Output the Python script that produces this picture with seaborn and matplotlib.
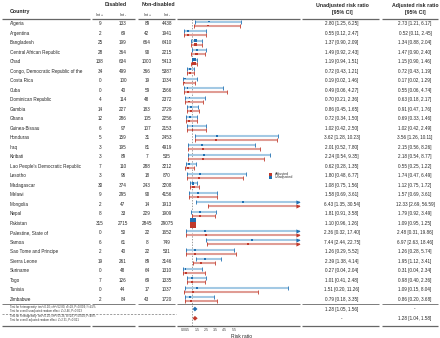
import numpy as np
import pandas as pd
import matplotlib
matplotlib.use("Agg")
import matplotlib.pyplot as plt
import seaborn as sns

# ------------------ DATA ------------------
countries = ["Algeria", "Argentina", "Bangladesh", "Central African Republic", "Chad",
             "Congo, Democratic Republic of the", "Costa Rica", "Cuba", "Dominican Republic",
             "Gambia", "Ghana", "Guinea-Bissau", "Honduras", "Iraq", "Kiribati",
             "Lao People's Democratic Republic", "Lesotho", "Madagascar", "Malawi", "Mongolia",
             "Nepal", "Pakistan", "Palestine, State of", "Samoa", "Sao Tome and Principe",
             "Sierra Leone", "Suriname", "Togo", "Tunisia", "Zimbabwe"]
dis_pos = [9, 2, 25, 28, 138, 34, 0, 0, 4, 14, 12, 6, 5, 3, 3, 7, 3, 30, 9, 2, 8, 315, 0, 6, 2, 19, 0, 7, 0, 2]
dis_neg = [133, 69, 199, 364, 634, 499, 100, 40, 114, 227, 286, 97, 159, 195, 89, 110, 96, 374, 295, 47,
           33, 2715, 50, 61, 40, 261, 48, 126, 44, 84]
non_pos = [89, 42, 664, 90, 1000, 366, 19, 59, 48, 183, 105, 107, 31, 81, 7, 288, 18, 243, 90, 14,
           229, 2845, 22, 8, 22, 89, 64, 69, 17, 43]
non_neg = [4438, 1941, 6410, 2215, 5413, 5387, 1034, 1566, 2372, 2729, 2256, 2153, 2453, 4919, 535,
           3212, 870, 3208, 4156, 1913, 1909, 29075, 1652, 749, 531, 3146, 1310, 1335, 1037, 1720]

unadj_rr = [2.80, 0.55, 1.37, 1.49, 1.19, 0.72, 0.19, 0.49, 0.70, 0.86, 0.72, 1.02, 3.62, 2.01, 2.24,
            0.62, 1.80, 1.08, 1.58, 6.43, 1.81, 1.10, 2.36, 7.44, 1.26, 2.39, 0.27, 1.01, 1.51, 0.79]
unadj_lo = [1.25, 0.12, 0.90, 0.92, 0.94, 0.43, 0.02, 0.06, 0.21, 0.45, 0.34, 0.42, 1.28, 0.52, 0.54,
            0.28, 0.48, 0.75, 0.69, 1.35, 0.91, 0.96, 0.32, 2.44, 0.29, 1.38, 0.04, 0.41, 0.20, 0.18]
unadj_hi = [6.25, 2.47, 2.09, 2.43, 1.51, 1.21, 1.46, 4.27, 2.36, 1.65, 1.50, 2.50, 10.23, 7.80, 9.35,
            1.35, 6.77, 1.56, 3.61, 30.54, 3.58, 1.26, 17.40, 22.75, 5.52, 4.14, 2.04, 2.48, 11.26, 3.35]
adj_rr = [2.73, 0.52, 1.34, 1.47, 1.15, 0.72, 0.17, 0.55, 0.63, 0.91, 0.69, 1.02, 3.56, 2.15, 2.18,
          0.55, 1.74, 1.12, 1.57, 12.33, 1.79, 1.09, 2.48, 6.97, 1.26, 1.95, 0.31, 0.98, 1.09, 0.86]
adj_lo = [1.21, 0.11, 0.88, 0.90, 0.90, 0.43, 0.02, 0.06, 0.18, 0.47, 0.33, 0.42, 1.26, 0.56, 0.54,
          0.25, 0.47, 0.75, 0.69, 2.69, 0.92, 0.95, 0.31, 2.63, 0.28, 1.12, 0.04, 0.40, 0.15, 0.20]
adj_hi = [6.17, 2.45, 2.04, 2.40, 1.46, 1.19, 1.29, 4.74, 2.17, 1.76, 1.46, 2.49, 10.11, 8.26, 8.77,
          1.22, 6.49, 1.72, 3.61, 56.59, 3.49, 1.25, 19.86, 18.46, 5.74, 3.41, 2.34, 2.36, 8.04, 3.68]

pooled_unadj = (1.28, 1.05, 1.56)
pooled_adj = (1.28, 1.04, 1.58)

x_ticks = [0.0, 0.5, 1.5, 2.5, 3.5, 4.5, 5.5]
x_max = 12.6

footnotes = ["Test for heterogeneity: tau\u00b2=0.10; chi\u00b2=52.80, df=29, P=0.004; I\u00b2=45%",
             "Test for overall unadjusted random effect: Z=2.46, P=0.013",
             "Test for heterogeneity: tau\u00b2=0.10; chi\u00b2=55.26, df=29, P=0.002; I\u00b2=48%",
             "Test for overall adjusted random effect: Z=2.31, P=0.021"]

# ------------------ STYLE ------------------
sns.set_theme(style="white")
plt.rcParams['font.family'] = ['Liberation Sans', 'DejaVu Sans']

W, H = 440, 338
blue, blue_l = "#1f6fb2", "#a3c9e4"
red, red_l = "#c0392b", "#e09c94"

row_y = 23.5 + 9.51 * np.arange(len(countries))
off = 2.0

df = pd.DataFrame({
    "Country": countries * 2,
    "Type": ["Unadjusted"] * len(countries) + ["Adjusted"] * len(countries),
    "RR": unadj_rr + adj_rr,
    "Lo": unadj_lo + adj_lo,
    "Hi": unadj_hi + adj_hi,
    "y": np.concatenate([row_y - off, row_y + off]),
})
# inverse-variance weight, used for the marker size
se = (np.log(df["Hi"]) - np.log(df["Lo"])) / 3.92
df["w"] = 1 / se ** 2

fig = plt.figure(figsize=(W / 100, H / 100), dpi=100)
bg = fig.add_axes([0, 0, 1, 1])
bg.set_xlim(0, W)
bg.set_ylim(H, 0)
bg.axis("off")

# ------------------ FOREST ------------------
x0, x1, y_top, y_bot = 183, 300, 19, 326
ax = fig.add_axes([x0 / W, (H - y_bot) / H, (x1 - x0) / W, (y_bot - y_top) / H])
ax.set_xlim(0, x_max)
ax.set_ylim(y_bot, y_top)
ax.patch.set_alpha(0)
for s in ax.spines.values():
    s.set_visible(False)
ax.axvline(1, color="#777777", ls=(0, (2, 2)), lw=0.5, zorder=1)

for typ, c, cl in [("Unadjusted", blue, blue_l), ("Adjusted", red, red_l)]:
    d = df[df["Type"] == typ]
    hi_clip = np.minimum(d["Hi"], x_max)
    ax.hlines(d["y"], d["Lo"], hi_clip, color=cl, lw=1.5, zorder=2)
    ax.scatter(d["Lo"], d["y"], marker="|", s=5, color=c, lw=0.6, zorder=3)
    inside = d[d["Hi"] <= x_max]
    ax.scatter(inside["Hi"], inside["y"], marker="|", s=5, color=c, lw=0.6, zorder=3)
    out = d[d["Hi"] > x_max]
    ax.scatter(np.full(len(out), x_max - 0.2), out["y"], marker=">", s=9, color=c, lw=0, zorder=3,
               clip_on=False)

sns.scatterplot(data=df, x="RR", y="y", hue="Type", palette={"Unadjusted": blue, "Adjusted": red},
                size="w", sizes=(1.5, 20), marker="s", linewidth=0, legend=False, ax=ax, zorder=4)

# pooled diamonds
for (rr, lo, hi), yy, c in [(pooled_unadj, 309, blue), (pooled_adj, 318.3, red)]:
    ax.fill([lo, rr, hi, rr], [yy, yy - 2.4, yy, yy + 2.4], color=c, lw=0, zorder=4)

ax.set_xticks(x_ticks)
ax.set_xticklabels([f"{t:.1f}" for t in x_ticks], fontsize=2.6, color="#444444")
ax.tick_params(axis="x", length=0, pad=1.5)
ax.set_yticks([])
ax.set_xlabel("Risk ratio", fontsize=3.6, labelpad=1.5)
ax.set_ylabel("")

# legend
bg.add_patch(plt.Rectangle((269, 172.5), 3, 3, color=red, lw=0))
bg.add_patch(plt.Rectangle((269, 175.5), 3, 3, color=blue, lw=0))
bg.text(274.5, 174, "Adjusted", fontsize=2.6, va="center", color="#333333")
bg.text(274.5, 177.3, "Unadjusted", fontsize=2.6, va="center", color="#333333")

# ------------------ TABLE TEXT ------------------
hfs, fs, sfs = 3.8, 3.3, 2.5
bg.text(10, 12, "Country", fontsize=hfs, weight="bold", va="center")
bg.text(116, 4.5, "Disabled", fontsize=hfs, weight="bold", va="center", ha="center")
bg.text(158, 4.5, "Non-disabled", fontsize=hfs, weight="bold", va="center", ha="center")
bg.text(342, 5, "Unadjusted risk ratio", fontsize=hfs, weight="bold", va="center", ha="center")
bg.text(342, 12.5, "[95% CI]", fontsize=hfs, weight="bold", va="center", ha="center")
bg.text(415, 5, "Adjusted risk ratio", fontsize=hfs, weight="bold", va="center", ha="center")
bg.text(415, 12.5, "[95% CI]", fontsize=hfs, weight="bold", va="center", ha="center")
col_x = [100, 123, 147, 167]
for cx, lab in zip(col_x, ["Int +", "Int -", "Int +", "Int -"]):
    bg.text(cx, 14.5, lab, fontsize=sfs, va="center", ha="center")

for i, name in enumerate(countries):
    y = row_y[i]
    bg.text(10, y, name, fontsize=fs, va="center")
    for cx, v in zip(col_x, [dis_pos[i], dis_neg[i], non_pos[i], non_neg[i]]):
        bg.text(cx, y, str(v), fontsize=fs, va="center", ha="center")
    bg.text(342, y, f"{unadj_rr[i]:.2f} [{unadj_lo[i]:.2f}, {unadj_hi[i]:.2f}]", fontsize=fs,
            va="center", ha="center")
    bg.text(415, y, f"{adj_rr[i]:.2f} [{adj_lo[i]:.2f}, {adj_hi[i]:.2f}]", fontsize=fs,
            va="center", ha="center")

bg.text(342, 309, "{:.2f} [{:.2f}, {:.2f}]".format(*pooled_unadj), fontsize=fs, va="center", ha="center")
bg.text(415, 309, "-", fontsize=fs, va="center", ha="center")
bg.text(342, 318.3, "-", fontsize=fs, va="center", ha="center")
bg.text(415, 318.3, "{:.2f} [{:.2f}, {:.2f}]".format(*pooled_adj), fontsize=fs, va="center", ha="center")

for yy, t in zip([307.3, 311.2, 316.3, 320.5], footnotes):
    bg.text(10, yy, t, fontsize=2.0, va="center", color="#333333")

# rules
segs = [(2, 90), (92, 135), (138, 175), (177, 300), (302, 379), (382, 438)]
for yy, lw in [(18.5, 0.9), (304.3, 0.6), (326.3, 0.9)]:
    for a, b in segs:
        bg.plot([a, b], [yy, yy], color="#666666", lw=lw, solid_capstyle="butt")
bg.plot([2, 176], [313.8, 313.8], color="#777777", lw=0.5, ls=(0, (3, 2)))

fig.savefig("out.png", dpi=100)
